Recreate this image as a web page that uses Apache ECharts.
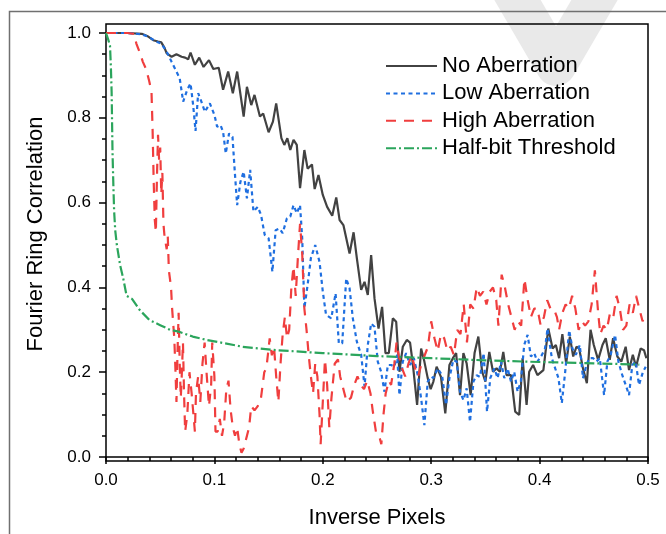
<!DOCTYPE html>
<html>
<head>
<meta charset="utf-8">
<script src="https://cdn.jsdelivr.net/npm/echarts@6/dist/echarts.min.js"></script>
<style>
html,body{margin:0;padding:0;background:#fff;}
#chart{width:666px;height:534px;}
</style>
</head>
<body>
<div id="chart"></div>
<script>
// ---------------- data ----------------
var seriesNames = ['No Aberration', 'Low Aberration', 'High Aberration', 'Half-bit Threshold'];
var xTicks = ['0.0', '0.1', '0.2', '0.3', '0.4', '0.5'];
var yTicks = ['0.0', '0.2', '0.4', '0.6', '0.8', '1.0'];

var noAbX = [0,0.02,0.033,0.038,0.0436,0.048,0.051,0.054,0.056,0.0605,0.065,0.0697,0.073,0.0758,0.078,0.082,0.086,0.09,0.095,0.099,0.104,0.108,0.1127,0.117,0.121,0.127,0.130,0.134,0.137,0.142,0.145,0.150,0.154,0.157,0.1618,0.1645,0.1673,0.170,0.173,0.176,0.179,0.183,0.186,0.19,0.1925,0.196,0.200,0.204,0.2087,0.2124,0.2155,0.219,0.2247,0.2284,0.2314,0.2354,0.2385,0.2415,0.2446,0.2477,0.2514,0.2547,0.2578,0.2609,0.2646,0.2677,0.2707,0.2738,0.2775,0.2805,0.283,0.287,0.2907,0.2937,0.2968,0.2995,0.302,0.305,0.309,0.313,0.3168,0.32,0.323,0.3266,0.3297,0.3327,0.3364,0.34,0.3435,0.347,0.35,0.3536,0.357,0.3603,0.3634,0.3665,0.3695,0.3736,0.3775,0.3812,0.3843,0.388,0.3904,0.394,0.398,0.4035,0.408,0.412,0.415,0.418,0.421,0.4245,0.4279,0.431,0.434,0.4365,0.44,0.4436,0.447,0.45,0.454,0.458,0.461,0.4647,0.4678,0.4717,0.4754,0.4794,0.4825,0.486,0.489,0.4932,0.4963,0.4985];
var noAbY = [1.0,1.0,0.998,0.993,0.983,0.98,0.978,0.965,0.952,0.944,0.95,0.944,0.942,0.938,0.954,0.925,0.942,0.92,0.936,0.915,0.918,0.866,0.909,0.858,0.909,0.803,0.873,0.830,0.854,0.803,0.81,0.766,0.791,0.834,0.752,0.736,0.752,0.724,0.748,0.736,0.634,0.724,0.68,0.69,0.632,0.665,0.618,0.59,0.569,0.612,0.559,0.547,0.48,0.53,0.469,0.394,0.413,0.382,0.476,0.374,0.303,0.354,0.245,0.245,0.327,0.319,0.201,0.26,0.276,0.27,0.221,0.123,0.256,0.225,0.186,0.16,0.178,0.213,0.189,0.103,0.217,0.233,0.245,0.146,0.245,0.221,0.146,0.245,0.284,0.201,0.178,0.248,0.201,0.209,0.201,0.248,0.193,0.193,0.107,0.099,0.233,0.123,0.201,0.217,0.193,0.205,0.303,0.256,0.264,0.233,0.29,0.221,0.284,0.237,0.26,0.256,0.209,0.174,0.30,0.264,0.229,0.264,0.28,0.229,0.28,0.237,0.225,0.26,0.205,0.241,0.213,0.256,0.252,0.233];

var lowAbX = [0,0.02,0.033,0.04,0.046,0.051,0.056,0.0605,0.065,0.068,0.0712,0.0749,0.078,0.0804,0.0826,0.085,0.088,0.0912,0.0958,0.1,0.1025,0.1056,0.108,0.1105,0.1135,0.1167,0.1188,0.121,0.124,0.127,0.13,0.133,0.136,0.14,0.143,0.1464,0.150,0.1535,0.1565,0.160,0.163,0.1669,0.17,0.173,0.176,0.179,0.181,0.183,0.186,0.189,0.193,0.197,0.200,0.203,0.2078,0.2118,0.2148,0.2179,0.2216,0.2247,0.2277,0.2314,0.2354,0.2385,0.2415,0.2446,0.2477,0.2507,0.2538,0.2569,0.26,0.263,0.266,0.2686,0.2707,0.2738,0.2769,0.2805,0.284,0.2876,0.2907,0.2937,0.2968,0.300,0.302,0.306,0.31,0.3137,0.3168,0.3204,0.3235,0.3266,0.3297,0.3327,0.3358,0.339,0.3419,0.345,0.3484,0.3515,0.3545,0.3582,0.3613,0.3644,0.3674,0.3705,0.3736,0.3766,0.3797,0.3827,0.3858,0.3889,0.392,0.395,0.398,0.402,0.405,0.4073,0.4113,0.4144,0.4174,0.4205,0.4236,0.4273,0.4303,0.4334,0.4371,0.44,0.4432,0.4457,0.4494,0.4524,0.4555,0.4595,0.4625,0.4656,0.4696,0.4727,0.4763,0.4794,0.4825,0.4855,0.4886,0.4917,0.4954,0.4979];
var lowAbY = [1.0,1.0,0.997,0.99,0.98,0.975,0.956,0.932,0.909,0.893,0.838,0.866,0.881,0.83,0.769,0.858,0.838,0.814,0.834,0.807,0.779,0.783,0.767,0.716,0.763,0.755,0.673,0.594,0.649,0.673,0.61,0.677,0.579,0.59,0.571,0.524,0.516,0.437,0.535,0.539,0.528,0.563,0.567,0.594,0.575,0.594,0.516,0.351,0.406,0.469,0.5,0.46,0.39,0.335,0.327,0.386,0.268,0.268,0.421,0.398,0.327,0.272,0.241,0.166,0.264,0.315,0.307,0.225,0.201,0.154,0.217,0.217,0.213,0.241,0.146,0.225,0.245,0.217,0.233,0.193,0.138,0.075,0.178,0.19,0.186,0.209,0.193,0.123,0.186,0.229,0.225,0.154,0.134,0.162,0.083,0.178,0.193,0.189,0.245,0.107,0.186,0.209,0.186,0.225,0.186,0.209,0.178,0.201,0.154,0.178,0.264,0.288,0.237,0.245,0.225,0.24,0.256,0.303,0.233,0.209,0.186,0.127,0.201,0.299,0.256,0.241,0.264,0.186,0.217,0.233,0.233,0.225,0.233,0.146,0.225,0.241,0.288,0.225,0.193,0.17,0.146,0.217,0.225,0.17,0.201,0.213];

var highAbX = [0,0.02,0.026,0.028,0.031,0.034,0.037,0.040,0.042,0.043,0.044,0.045,0.046,0.047,0.048,0.049,0.050,0.051,0.052,0.053,0.054,0.055,0.056,0.057,0.058,0.060,0.061,0.063,0.064,0.065,0.066,0.067,0.068,0.069,0.070,0.071,0.072,0.073,0.075,0.077,0.079,0.081,0.082,0.083,0.085,0.087,0.089,0.091,0.093,0.095,0.097,0.098,0.100,0.101,0.103,0.105,0.107,0.109,0.111,0.113,0.115,0.117,0.119,0.121,0.123,0.125,0.127,0.129,0.132,0.134,0.137,0.140,0.143,0.146,0.148,0.151,0.153,0.155,0.157,0.159,0.161,0.163,0.165,0.167,0.169,0.171,0.173,0.175,0.177,0.179,0.181,0.183,0.185,0.187,0.189,0.191,0.193,0.195,0.197,0.198,0.200,0.202,0.204,0.206,0.208,0.211,0.214,0.216,0.219,0.222,0.226,0.229,0.232,0.235,0.238,0.241,0.244,0.246,0.249,0.252,0.254,0.256,0.258,0.261,0.263,0.266,0.268,0.270,0.273,0.276,0.279,0.282,0.285,0.288,0.291,0.294,0.297,0.300,0.303,0.306,0.309,0.312,0.315,0.318,0.321,0.324,0.327,0.330,0.333,0.336,0.339,0.342,0.345,0.348,0.351,0.354,0.357,0.360,0.362,0.365,0.368,0.371,0.374,0.377,0.380,0.383,0.386,0.389,0.392,0.395,0.398,0.401,0.404,0.407,0.410,0.413,0.416,0.418,0.421,0.424,0.427,0.430,0.433,0.436,0.439,0.442,0.445,0.448,0.451,0.454,0.456,0.459,0.462,0.465,0.468,0.471,0.474,0.477,0.480,0.483,0.486,0.489,0.492,0.495,0.498];
var highAbY = [1.0,1.0,0.998,0.975,0.955,0.932,0.915,0.885,0.86,0.77,0.65,0.56,0.53,0.66,0.76,0.70,0.73,0.62,0.67,0.55,0.52,0.52,0.49,0.52,0.44,0.40,0.35,0.28,0.21,0.13,0.25,0.34,0.22,0.14,0.20,0.27,0.15,0.06,0.10,0.20,0.15,0.09,0.06,0.15,0.19,0.13,0.22,0.27,0.19,0.12,0.17,0.27,0.19,0.06,0.06,0.09,0.05,0.08,0.16,0.18,0.11,0.07,0.05,0.07,0.03,0.01,0.02,0.04,0.07,0.12,0.11,0.12,0.14,0.20,0.21,0.28,0.24,0.26,0.19,0.13,0.22,0.29,0.33,0.28,0.30,0.40,0.45,0.38,0.47,0.55,0.48,0.35,0.30,0.24,0.19,0.15,0.22,0.19,0.10,0.03,0.13,0.23,0.17,0.07,0.14,0.22,0.23,0.19,0.16,0.13,0.14,0.17,0.19,0.17,0.16,0.18,0.15,0.11,0.06,0.05,0.03,0.10,0.15,0.18,0.17,0.22,0.27,0.24,0.21,0.19,0.22,0.24,0.21,0.19,0.22,0.24,0.26,0.32,0.28,0.25,0.29,0.28,0.25,0.26,0.24,0.30,0.29,0.36,0.27,0.36,0.35,0.40,0.38,0.39,0.36,0.39,0.40,0.37,0.31,0.43,0.40,0.36,0.33,0.30,0.32,0.31,0.42,0.37,0.33,0.35,0.35,0.31,0.33,0.37,0.35,0.35,0.33,0.30,0.34,0.36,0.35,0.38,0.35,0.30,0.32,0.31,0.32,0.36,0.44,0.34,0.29,0.31,0.30,0.34,0.33,0.38,0.35,0.30,0.31,0.36,0.34,0.38,0.35,0.32,0.34];

var halfBitX = [0,0.002,0.0037,0.0045,0.0052,0.006,0.0068,0.0075,0.0085,0.01,0.013,0.016,0.019,0.024,0.031,0.04,0.05,0.059,0.068,0.08,0.093,0.11,0.126,0.157,0.2,0.25,0.3,0.35,0.4,0.45,0.492];
var halfBitY = [1.0,0.985,0.97,0.92,0.86,0.72,0.64,0.58,0.535,0.5,0.453,0.42,0.38,0.373,0.347,0.323,0.311,0.30,0.295,0.284,0.276,0.268,0.26,0.252,0.245,0.238,0.233,0.228,0.224,0.221,0.218];

// ---------------- chart ----------------
function pairs(xs, ys) { return xs.map(function (x, i) { return [x, ys[i]]; }); }

var FONT = '"Liberation Sans", Arial, Helvetica, sans-serif';
var chart = echarts.init(document.getElementById('chart'), null, {renderer: 'canvas'});

var option = {
  animation: false,
  backgroundColor: '#fff',
  textStyle: {fontFamily: FONT},
  graphic: [
    { type: 'polyline', z: -10, silent: true,
      shape: {points: [[500, -30], [556, 66], [612, -30]]},
      style: {stroke: '#e9e9e9', lineWidth: 40, lineJoin: 'round', lineCap: 'round', fill: null} },
    { type: 'rect', z: -5, silent: true,
      shape: {x: 9.5, y: 11.5, width: 800, height: 700},
      style: {stroke: '#707070', lineWidth: 1.5, fill: null} }
  ],
  grid: [
    {left: 106, right: 18, top: 24, bottom: 73, show: true, borderColor: '#000', borderWidth: 1.5, backgroundColor: 'transparent'},
    {left: 106, right: 18, top: 33, bottom: 77, show: false}
  ],
  legend: {
    orient: 'vertical', left: 380, top: 50, itemWidth: 51, itemHeight: 14, itemGap: 5.4,
    data: seriesNames,
    itemStyle: {opacity: 0},
    textStyle: {fontSize: 22, color: '#000', fontFamily: FONT}
  },
  xAxis: [
    { type: 'value', gridIndex: 0, min: 0, max: 0.5, interval: 0.1,
      name: 'Inverse Pixels', nameLocation: 'middle', nameGap: 46,
      nameTextStyle: {fontSize: 22, color: '#000', fontFamily: FONT},
      axisLine: {show: true, lineStyle: {color: '#000', width: 1.5}},
      axisTick: {show: true, length: 7, lineStyle: {color: '#000', width: 1.5}},
      minorTick: {show: true, splitNumber: 5, length: 4, lineStyle: {color: '#000', width: 1.5}},
      splitLine: {show: false},
      axisLabel: {fontSize: 17, color: '#000', margin: 11, fontFamily: FONT,
        formatter: function (v) { var i = Math.round(v * 10); return xTicks[i] !== undefined ? xTicks[i] : ''; }}
    },
    { type: 'value', gridIndex: 1, min: 0, max: 0.5, show: false }
  ],
  yAxis: [
    { type: 'value', gridIndex: 0, min: -4 / 424, max: 1 + 9 / 424, show: false },
    { type: 'value', gridIndex: 1, min: 0, max: 1, interval: 0.2,
      name: 'Fourier Ring Correlation', nameLocation: 'middle', nameGap: 59,
      nameTextStyle: {fontSize: 22, color: '#000', fontFamily: FONT, padding: [0, 0, 0, 22]},
      axisLine: {show: false},
      axisTick: {show: true, length: 7, lineStyle: {color: '#000', width: 1.5}},
      minorTick: {show: true, splitNumber: 4, length: 4, lineStyle: {color: '#000', width: 1.5}},
      splitLine: {show: false},
      axisLabel: {fontSize: 17, color: '#000', margin: 15, fontFamily: FONT,
        formatter: function (v) { var i = Math.round(v * 5); return yTicks[i] !== undefined ? yTicks[i] : ''; }}
    }
  ],
  series: [
    { name: seriesNames[0], type: 'line', xAxisIndex: 0, yAxisIndex: 0, symbol: 'none', showSymbol: false,
      data: pairs(noAbX, noAbY), lineStyle: {color: '#424242', width: 2.2, type: 'solid'}, itemStyle: {color: '#424242'} },
    { name: seriesNames[1], type: 'line', xAxisIndex: 0, yAxisIndex: 0, symbol: 'none', showSymbol: false,
      data: pairs(lowAbX, lowAbY), lineStyle: {color: '#1f6fe0', width: 2.2, type: [4, 3.5]}, itemStyle: {color: '#1f6fe0'} },
    { name: seriesNames[2], type: 'line', xAxisIndex: 0, yAxisIndex: 0, symbol: 'none', showSymbol: false,
      data: pairs(highAbX, highAbY), lineStyle: {color: '#f03e3e', width: 2.2, type: [10, 8]}, itemStyle: {color: '#f03e3e'} },
    { name: seriesNames[3], type: 'line', xAxisIndex: 0, yAxisIndex: 0, symbol: 'none', showSymbol: false,
      data: pairs(halfBitX, halfBitY), lineStyle: {color: '#2ba55c', width: 2.2, type: [10, 3, 2, 3]}, itemStyle: {color: '#2ba55c'} }
  ]
};
chart.setOption(option);
</script>
</body>
</html>
